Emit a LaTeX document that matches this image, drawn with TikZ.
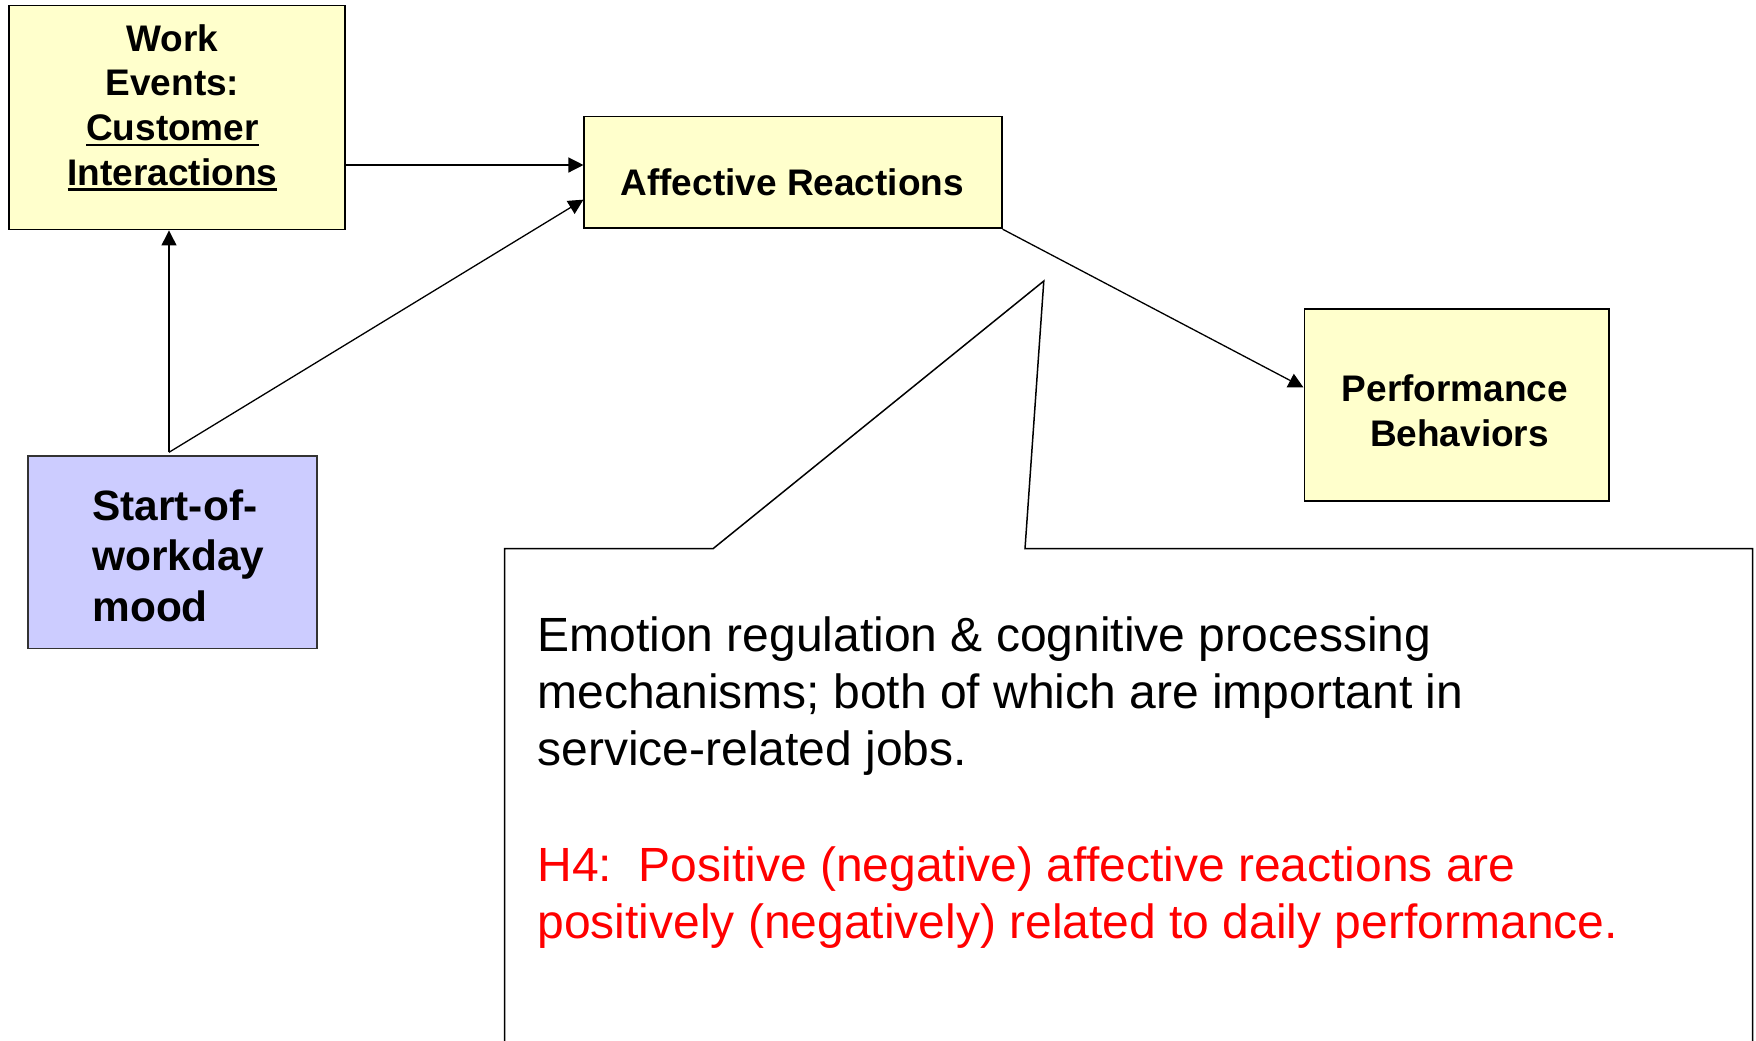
\documentclass[tikz,border=0pt]{standalone}
\usepackage{fontspec}
\setmainfont{Liberation Sans}
\usetikzlibrary{arrows.meta,calc}

% underline with a rule of fixed thickness
\newcommand\ulbox[1]{\setbox0=\hbox{#1}\rlap{\rule[-2.6pt]{\wd0}{1.2pt}}\box0}

\definecolor{boxyellow}{HTML}{FFFFCC}
\definecolor{boxlilac}{HTML}{CCCCFF}
\definecolor{hypred}{HTML}{FF0000}

\tikzset{
  stagebox/.style={draw=black, line width=0.85pt, fill=boxyellow, inner sep=0pt},
  moodbox/.style={draw=black!80, line width=0.85pt, fill=boxlilac, inner sep=0pt},
  boxlabel/.style={inner sep=0pt, font=\bfseries\fontsize{18.5}{22.4}\selectfont},
  arr/.style={line width=0.65pt, -{Triangle[length=7.5pt,width=7.5pt]}},
  calloutline/.style={line width=0.75pt},
}

\begin{document}
\begin{tikzpicture}[x=0.5pt, y=-0.5pt]
\useasboundingbox (0,0) rectangle (1756,1040);

% boxes
\node[stagebox, minimum width=168pt, minimum height=112pt] (work) at (177,117.6) {};
\node[stagebox, minimum width=208.7pt, minimum height=55.9pt] (aff) at (793,172.4) {};
\node[stagebox, minimum width=152.35pt, minimum height=95.85pt] (perf) at (1456.7,404.9) {};
\node[moodbox, minimum width=144.5pt, minimum height=96.15pt] (mood) at (172.2,552.2) {};

% box labels (multi-line nodes: base anchor sits on the last line)
\node[boxlabel, align=center, anchor=base] (worktxt) at (172.5,185.5)
  {Work\\Events:\\\ulbox{Customer}\\\ulbox{Interactions}};
\node[boxlabel, anchor=base] (afftxt) at (792.3,195) {Affective Reactions};
\node[boxlabel, align=center, anchor=base, font=\bfseries\fontsize{18.5}{22.5}\selectfont]
  (perftxt) at (1455,446.7) {Performance\\\hspace*{4.5pt}Behaviors};
\node[inner sep=0pt, align=left, anchor=base west, font=\bfseries\fontsize{21.2}{25.4}\selectfont]
  (moodtxt) at (92,621.7) {Start-of-\\workday\\mood};

% connectors
\coordinate (src) at (169,452.3);
\coordinate (we) at ($(work.south east)!0.29!(work.north east)$);
\draw[arr] (we) -- (we -| aff.west);
\draw[arr] (src) -- (src |- work.south);
\draw[arr] (src) -- ($(aff.south west)!0.26!(aff.north west)$);
\draw[arr] (aff.south east) -- ($(perf.north west)!0.41!(perf.south west)$);

% callout outline
\coordinate (cbl) at (504.5,1042);
\coordinate (ctl) at (504.5,548.7);
\coordinate (cp1) at (713,548.7);
\coordinate (ctip) at (1043.8,281);
\coordinate (cp2) at (1025,548.7);
\coordinate (ctr) at (1752.5,548.7);
\coordinate (cbr) at (1752.5,1042);
\draw[calloutline] (cbl) -- (ctl) -- (cp1) -- (ctip) -- (cp2) -- (ctr) -- (cbr);

% callout text
\node[inner sep=0pt, align=left, anchor=base west, font=\fontsize{24}{28.35}\selectfont]
  (note) at (537,765)
  {Emotion regulation \& cognitive processing\\mechanisms; both of which are important in\\service-related jobs.};
\node[inner sep=0pt, align=left, anchor=base west, text=hypred, font=\fontsize{24}{28.35}\selectfont]
  (hyp) at (537,938.3)
  {H4:\ \ Positive (negative) affective reactions are\\positively (negatively) related to daily performance.};
\end{tikzpicture}
\end{document}
